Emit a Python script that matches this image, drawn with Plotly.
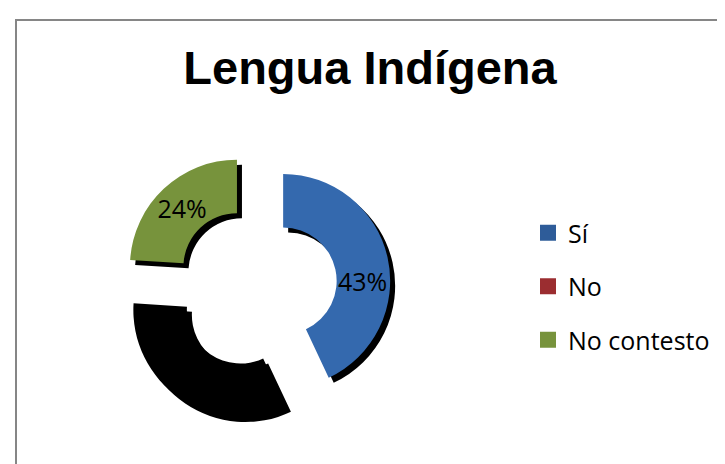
import plotly.graph_objects as go

# ---- data ----
categories = ["Sí", "No", "No contesto"]
values = [43, 33, 24]
slice_colors = ["#3469AE", "#000000", "#77933C"]
legend_colors = ["#2E5C99", "#9B2D30", "#77933C"]
title_text = "Lengua Indígena"

W, H = 725, 464
cx, cy = 248, 279          # pie centre (px)
R = 107                    # outer radius (px)
pull = 0.26
half = R * (1 + pull)
sh = 5                     # shadow offset (px)


def dom(dx=0, dy=0):
    x0 = (cx + dx - half) / W
    x1 = (cx + dx + half) / W
    y0 = 1 - (cy + dy + half) / H
    y1 = 1 - (cy + dy - half) / H
    return dict(x=[x0, x1], y=[y0, y1])


fig = go.Figure()

# shadow
fig.add_trace(go.Pie(
    labels=categories, values=values, sort=False, direction="clockwise",
    hole=0.5, pull=[pull] * len(values), domain=dom(sh, sh),
    marker=dict(colors=["#000000"] * len(values), line=dict(width=0)),
    textinfo="none", hoverinfo="skip", showlegend=False,
))

# main donut
fig.add_trace(go.Pie(
    labels=categories, values=values, sort=False, direction="clockwise",
    hole=0.5, pull=[pull] * len(values), domain=dom(),
    marker=dict(colors=slice_colors, line=dict(width=0)),
    textinfo="percent", textposition="inside",
    insidetextorientation="horizontal",
    textfont=dict(family="Open Sans, sans-serif", size=25, color="#000000"),
    showlegend=False,
))

# legend entries (legend colours as in reference)
for name, col in zip(categories, legend_colors):
    fig.add_trace(go.Scatter(
        x=[None], y=[None], mode="markers", name=name, legendgroup=name,
        marker=dict(symbol="square", size=16, color=col),
    ))

fig.update_layout(
    width=W, height=H,
    margin=dict(l=0, r=0, t=0, b=0),
    paper_bgcolor="white", plot_bgcolor="white",
    xaxis=dict(visible=False), yaxis=dict(visible=False),
    uniformtext=dict(mode="show", minsize=25),
    title=dict(
        text=title_text, x=362 / W, xanchor="center",
        y=1 - 60 / H, yanchor="middle",
        font=dict(family="Liberation Sans, Arial, sans-serif", size=47,
                  color="#000000", weight="bold"),
    ),
    legend=dict(
        x=520 / W, xanchor="left", y=1 - 202 / H, yanchor="top",
        traceorder="grouped", tracegroupgap=18,
        font=dict(family="Open Sans, sans-serif", size=25, color="#000000"),
        bgcolor="rgba(0,0,0,0)",
    ),
    shapes=[dict(
        type="rect", xref="paper", yref="paper",
        x0=8 / W, x1=1.2, y0=-0.2, y1=1 - 12 / H,
        line=dict(color="#868686", width=2),
    )],
)

fig.write_html("out.html")
